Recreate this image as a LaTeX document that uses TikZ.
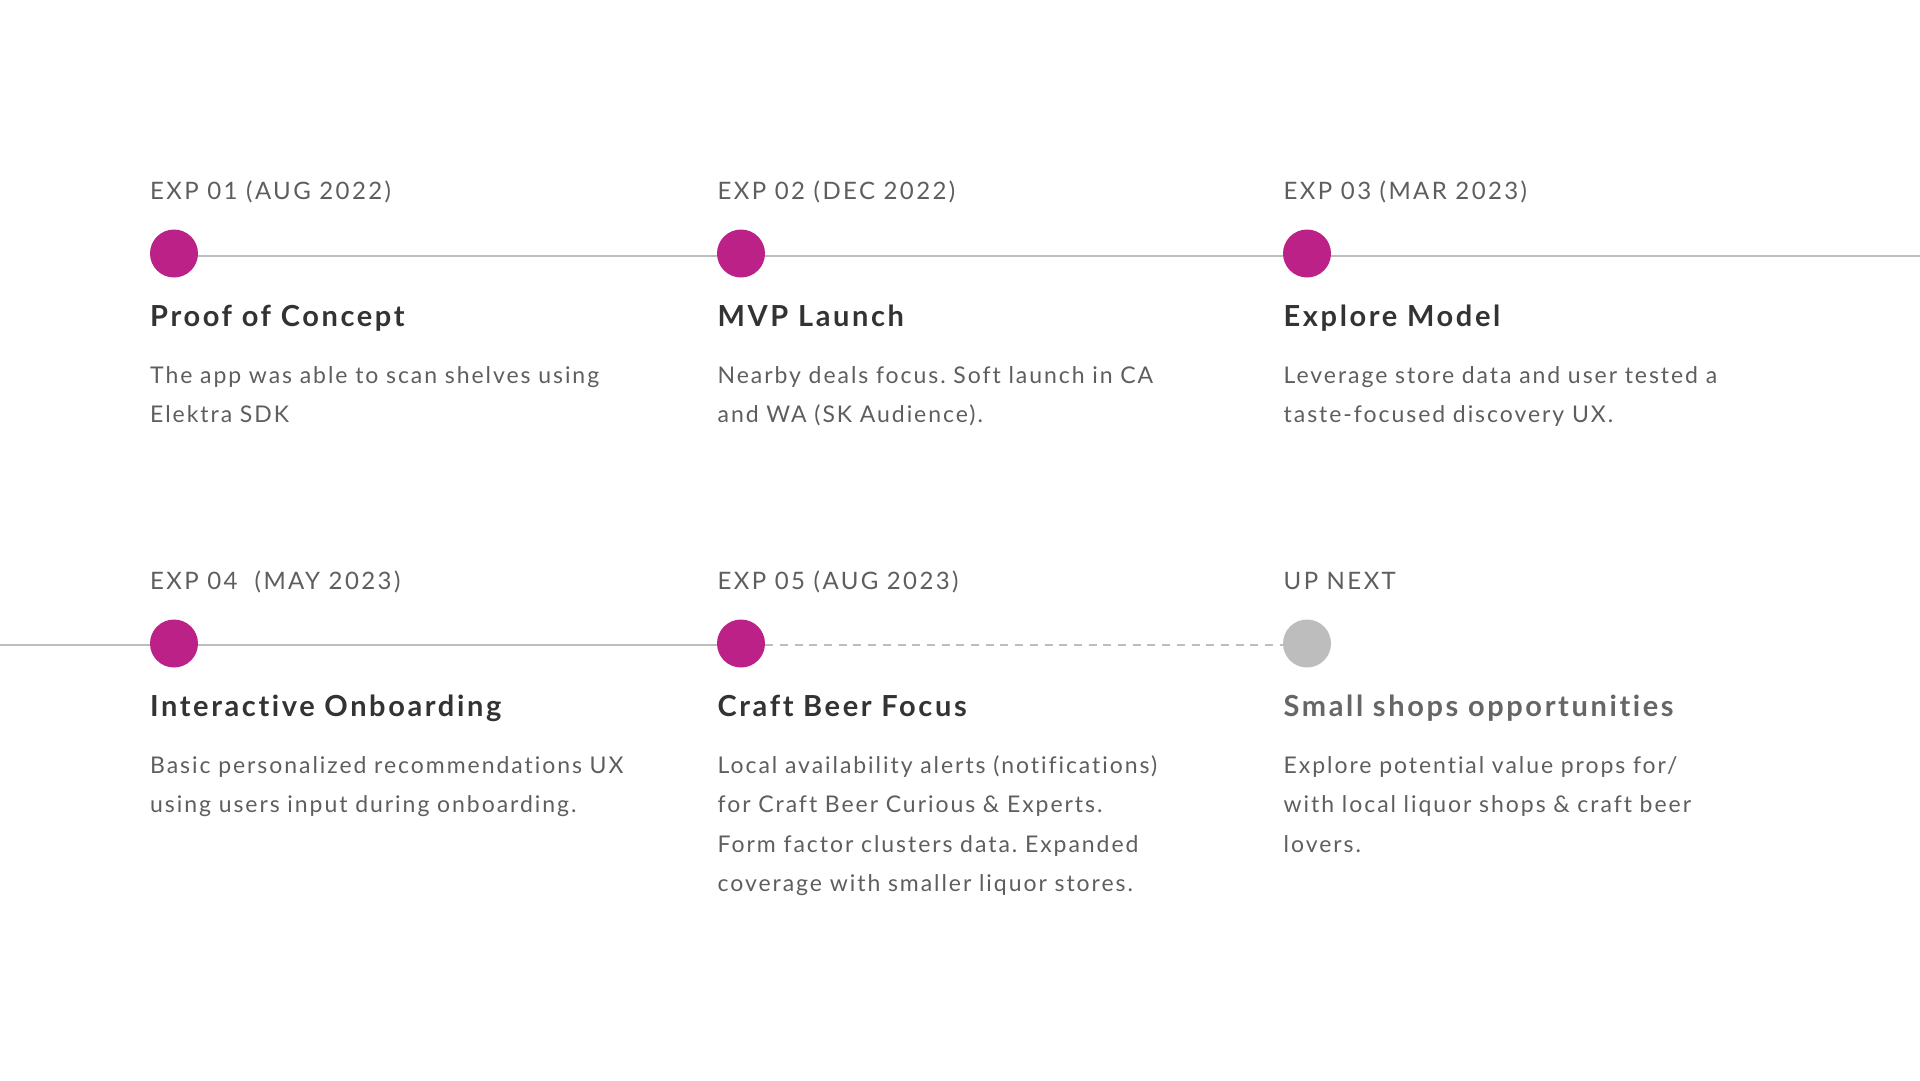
\documentclass[tikz,border=0pt]{standalone}
\usepackage{fontspec}
\setmainfont{Lato}
\newfontfamily\hdrfont[LetterSpace=10,Ligatures=NoCommon]{Lato}
\newfontfamily\ttlfont[LetterSpace=9,Ligatures=NoCommon]{Lato}
\newfontfamily\bdyfont[LetterSpace=8.5,Ligatures=NoCommon]{Lato}
\usetikzlibrary{backgrounds}
\definecolor{mag}{HTML}{BC2187}
\definecolor{lgray}{HTML}{BDBDBD}
\definecolor{hdr}{HTML}{5E5E5E}
\definecolor{ttl}{HTML}{333333}
\definecolor{ttlg}{HTML}{666666}
\definecolor{bdy}{HTML}{5E5E5E}
\tikzset{
  dot/.style={circle,fill=mag,minimum size=48pt,inner sep=0pt},
  dotnext/.style={circle,fill=lgray,minimum size=48pt,inner sep=0pt},
  tline/.style={draw=lgray,line width=2pt},
  dline/.style={draw=lgray,line width=2pt,dash pattern=on 8pt off 6.7pt},
  hdrtxt/.style={anchor=base west,inner sep=0pt,text=hdr,font=\hdrfont\fontsize{24}{28}\selectfont},
  ttltxt/.style={anchor=base west,inner sep=0pt,text=ttl,font=\ttlfont\fontsize{29}{34}\selectfont\bfseries},
  bdytxt/.style={anchor=base west,inner sep=0pt,text=bdy,text width=580pt,align=left,font=\bdyfont\fontsize{23}{39.5}\selectfont},
}
\begin{document}
\frenchspacing
\begin{tikzpicture}[x=1pt,y=-1pt]
\useasboundingbox (0,0) rectangle (1920,1080);
% row 1
\node[dot] (c1) at (174,253.5) {};
\node[dot] (c2) at (741,253.5) {};
\node[dot] (c3) at (1307,253.5) {};
\coordinate (r1end) at (1920,253.5);
% row 2
\coordinate (r2start) at (0,643.5);
\node[dot] (c4) at (174,643.5) {};
\node[dot] (c5) at (741,643.5) {};
\node[dotnext] (c6) at (1307,643.5) {};
\begin{scope}[on background layer]
\draw[tline] ([yshift=-2pt]c1.center) -- ([yshift=-2pt]c2.center) -- ([yshift=-2pt]c3.center) -- ([yshift=-2pt]r1end);
\draw[tline] ([yshift=-1pt]r2start) -- ([yshift=-1pt]c4.center) -- ([yshift=-1pt]c5.center);
\draw[dline] ([yshift=-1pt]c5.east) -- ([yshift=-1pt]c6.west);
\end{scope}
% texts row 1
\node[hdrtxt] (h1) at (150,199) {EXP 01 (AUG 2022)};
\node[hdrtxt] (h2) at (717.5,199) {EXP 02 (DEC 2022)};
\node[hdrtxt] (h3) at (1283.5,199) {EXP 03 (MAR 2023)};
\node[ttltxt] (t1) at (150,326) {Proof of Concept};
\node[ttltxt] (t2) at (717.5,326) {MVP Launch};
\node[ttltxt] (t3) at (1283.5,326) {Explore Model};
\node[bdytxt] (b1) at (150,383) {The app was able to scan shelves using\\Elektra SDK};
\node[bdytxt] (b2) at (717.5,383) {Nearby deals focus. Soft launch in CA\\and WA (SK Audience).};
\node[bdytxt] (b3) at (1283.5,383) {Leverage store data and user tested a\\taste-focused discovery UX.};
% texts row 2
\node[hdrtxt] (h4) at (150,589) {EXP 04\ \ (MAY 2023)};
\node[hdrtxt] (h5) at (717.5,589) {EXP 05 (AUG 2023)};
\node[hdrtxt] (h6) at (1283.5,589) {UP NEXT};
\node[ttltxt] (t4) at (150,716) {Interactive Onboarding};
\node[ttltxt] (t5) at (717.5,716) {Craft Beer Focus};
\node[ttltxt,text=ttlg] (t6) at (1283.5,716) {Small shops opportunities};
\node[bdytxt] (b4) at (150,773) {Basic personalized recommendations UX\\using users input during onboarding.};
\node[bdytxt] (b5) at (717.5,773) {Local availability alerts (notifications)\\for Craft Beer Curious \& Experts.\\Form factor clusters data. Expanded\\coverage with smaller liquor stores.};
\node[bdytxt] (b6) at (1283.5,773) {Explore potential value props for/\\with local liquor shops \& craft beer\\lovers.};
\end{tikzpicture}
\end{document}
